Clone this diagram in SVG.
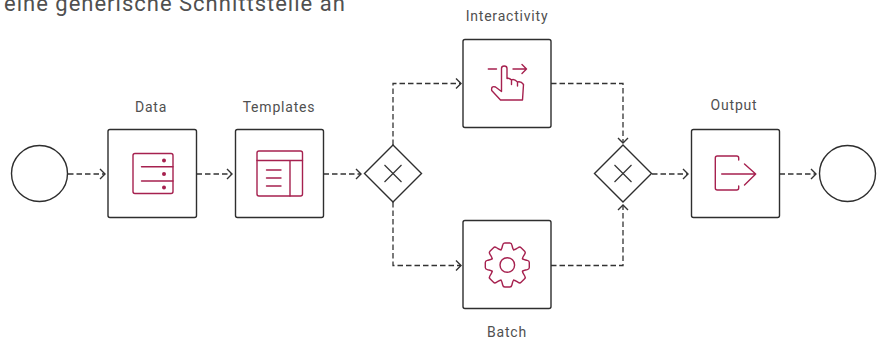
<svg xmlns="http://www.w3.org/2000/svg" xmlns:xlink="http://www.w3.org/1999/xlink" width="880" height="340" viewBox="0 0 880 340">
<style>
.b{fill:#fff;stroke:#2e2e2e;stroke-width:1.4}
.c{fill:none;stroke:#333;stroke-width:1.3;stroke-dasharray:5.500 3;marker-end:url(#a)}
.i{fill:none;stroke:#a6214f;stroke-width:1.400;stroke-linecap:round;stroke-linejoin:round}
.x{fill:none;stroke:#333;stroke-width:1.200}
text{font-family:"Roboto","Liberation Sans",sans-serif;fill:#505050;font-size:14px;letter-spacing:.8px;text-anchor:middle}
</style>
<defs>
<marker id="a" markerUnits="userSpaceOnUse" markerWidth="10" markerHeight="14" refX="6" refY="6" orient="auto"><path d="M1,1 L6,6 L1,11" fill="none" stroke="#333" stroke-width="1.400"/></marker>
<path id="t" d="M-6.300,-15.200C-5.300,-16 -5.200,-18 -4.600,-20Q-4.200,-22 -2.500,-22L2.500,-22Q4.200,-22 4.600,-20C5.200,-18 5.300,-16 6.300,-15.200"/>
</defs>
<text x="4" y="11" style="font-size:22px;text-anchor:start;letter-spacing:1px">eine generische Schnittstelle an</text>
<g id="connectors">
<path class="c" d="M68,174H105"/>
<path class="c" d="M196.500,174H232"/>
<path class="c" d="M323.500,174H361"/>
<path class="c" d="M393,145V83.500H461"/>
<path class="c" d="M393,202V265.500H461"/>
<path class="c" d="M551,83.500H623V143"/>
<path class="c" d="M551,265.500H623V205"/>
<path class="c" d="M652,174H688"/>
<path class="c" d="M779.500,174H816"/>
</g>
<g id="start"><circle class="b" cx="39.500" cy="173.500" r="28"/></g>
<g id="data"><rect class="b" x="108" y="129.500" width="88.500" height="88" rx="2"/>
<rect class="i" x="133" y="153.500" width="40" height="40" rx="2"/>
<path class="i" d="M141.500,166.700H173M141.500,181H173"/>
<g fill="#a6214f"><circle cx="164" cy="160.500" r="2"/><circle cx="164" cy="174" r="2"/><circle cx="164" cy="187.500" r="2"/></g>
<text x="151" y="112">Data</text></g>
<g id="templates"><rect class="b" x="235.500" y="129.500" width="88" height="88" rx="2"/>
<rect class="i" x="257" y="151" width="45.500" height="45" rx="2"/>
<path class="i" d="M257,160.500H302.500M290,160.500V196M266.500,170H281M266.500,178H281M266.500,186H281"/>
<text x="279" y="112">Templates</text></g>
<g id="split"><path class="b" d="M393,145L421.500,173.500L393,202L364.500,173.500Z"/><path class="x" d="M384.500,165L401.500,182M401.500,165L384.500,182"/></g>
<g id="interactivity"><rect class="b" x="463" y="39.500" width="88" height="88" rx="2"/>
<path class="i" d="M488.300,69H496.500M513,69H526.500M522,64.500L526.500,69L522,73.500"/>
<path class="i" d="M501.500,68.500V91.500L495.500,87Q491,85.500 491.700,90.500L500.500,100H522.500L523.500,84.500Q521,81 517.500,82V86M517.500,82Q514,78.500 511.500,80V84.500M511.500,80Q509,77.500 507,78.500V68.500Q507,66 504.200,66Q501.500,66 501.500,68.500"/>
<text x="507" y="21">Interactivity</text></g>
<g id="batch"><rect class="b" x="463" y="220.500" width="88" height="88" rx="2"/>
<g class="i" transform="translate(507.300,265)"><use xlink:href="#t"/><use xlink:href="#t" transform="rotate(45)"/><use xlink:href="#t" transform="rotate(90)"/><use xlink:href="#t" transform="rotate(135)"/><use xlink:href="#t" transform="rotate(180)"/><use xlink:href="#t" transform="rotate(225)"/><use xlink:href="#t" transform="rotate(270)"/><use xlink:href="#t" transform="rotate(315)"/><circle r="7.300"/></g>
<text x="507" y="337">Batch</text></g>
<g id="merge"><path class="b" d="M623,145L651.500,173.500L623,202L594.500,173.500Z"/><path class="x" d="M614.500,165L631.500,182M631.500,165L614.500,182"/></g>
<g id="output"><rect class="b" x="691.500" y="129.500" width="88" height="88" rx="2"/>
<path class="i" d="M738.700,160V158a2,2 0 0 0 -2,-2H717.300a2,2 0 0 0 -2,2V188a2,2 0 0 0 2,2H736.700a2,2 0 0 0 2,-2V186M721.700,174H755.700M744.500,164L755.700,174L744.500,185"/>
<text x="734" y="110">Output</text></g>
<g id="end"><circle class="b" cx="847.500" cy="173.500" r="28"/></g>
</svg>
